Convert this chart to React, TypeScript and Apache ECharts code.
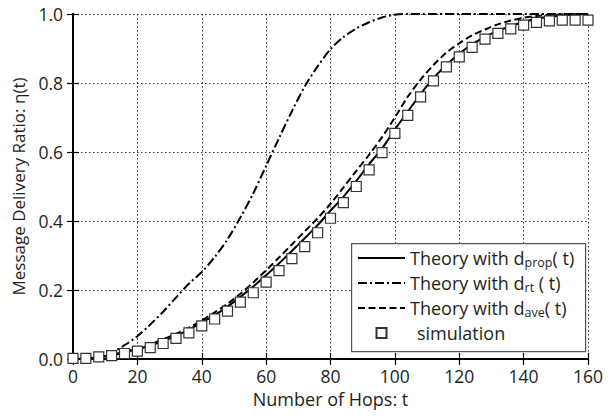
import React, { useEffect, useRef } from "react";
import * as echarts from "echarts";

const hops = [0, 4, 8, 12, 16, 20, 24, 28, 32, 36, 40, 44, 48, 52, 56, 60, 64, 68, 72, 76, 80, 84, 88, 92, 96, 100, 104, 108, 112, 116, 120, 124, 128, 132, 136, 140, 144, 148, 152, 156, 160];

const simulation = [0.002, 0.002, 0.006, 0.01, 0.016, 0.023, 0.033, 0.045, 0.06, 0.076, 0.096, 0.116, 0.139, 0.165, 0.192, 0.223, 0.256, 0.291, 0.326, 0.366, 0.408, 0.453, 0.5, 0.548, 0.598, 0.654, 0.706, 0.76, 0.806, 0.847, 0.876, 0.903, 0.927, 0.944, 0.957, 0.968, 0.976, 0.98, 0.982, 0.982, 0.982];

const dProp = [0, 0.001, 0.005, 0.011, 0.019, 0.028, 0.039, 0.052, 0.067, 0.085, 0.106, 0.127, 0.152, 0.18, 0.21, 0.243, 0.277, 0.313, 0.35, 0.388, 0.43, 0.47, 0.516, 0.565, 0.61, 0.665, 0.717, 0.768, 0.814, 0.853, 0.885, 0.912, 0.934, 0.951, 0.965, 0.977, 0.986, 0.992, 0.996, 0.999, 1.0];

const dRt = [0, 0.001, 0.005, 0.018, 0.04, 0.066, 0.1, 0.137, 0.178, 0.218, 0.252, 0.295, 0.347, 0.41, 0.48, 0.56, 0.64, 0.718, 0.79, 0.848, 0.898, 0.933, 0.958, 0.976, 0.99, 0.998, 1.0, 1.0, 1.0, 1.0, 1.0, 1.0, 1.0, 1.0, 1.0, 1.0, 1.0, 1.0, 1.0, 1.0, 1.0];

const dAve = [0, 0.001, 0.005, 0.012, 0.021, 0.031, 0.043, 0.057, 0.073, 0.091, 0.112, 0.135, 0.16, 0.189, 0.222, 0.257, 0.294, 0.332, 0.37, 0.408, 0.45, 0.497, 0.545, 0.592, 0.643, 0.7, 0.76, 0.81, 0.852, 0.888, 0.915, 0.938, 0.955, 0.97, 0.981, 0.989, 0.994, 0.997, 0.999, 1.0, 1.0];

const xTicks = [0, 20, 40, 60, 80, 100, 120, 140, 160];
const yTicks = [0, 0.2, 0.4, 0.6, 0.8, 1.0];

const seriesNames = [
  "Theory with d_prop(t)",
  "Theory with d_rt(t)",
  "Theory with d_ave(t)",
  "simulation",
];

const legendLabels: Record<string, string> = {
  "Theory with d_prop(t)": "{n|Theory with d}{s|prop}{n|( t)}",
  "Theory with d_rt(t)": "{n|Theory with d}{s|rt}{n| ( t)}",
  "Theory with d_ave(t)": "{n|Theory with d}{s|ave}{n|( t)}",
  simulation: "{m|simulation}",
};

const FONT = "'Open Sans', 'Noto Sans', sans-serif";
const TXT = "#231f20";

function pairs(ys: number[]) {
  return hops.map((h, i) => [h, ys[i]]);
}

export default function App() {
  const ref = useRef<HTMLDivElement>(null);
  useEffect(() => {
    if (!ref.current) return;
    const chart = echarts.init(ref.current, undefined, { renderer: "svg" });
    const axisLine = { show: true, lineStyle: { color: "#000", width: 2 } };
    const tick = { show: true, inside: true, length: 6, lineStyle: { color: "#000", width: 1.2 } };
    const split = { show: true, lineStyle: { color: "#333", width: 1, type: [1.5, 2.5] as any } };
    const hiddenDot = { opacity: 0 };
    chart.setOption({
      animation: false,
      backgroundColor: "#fff",
      textStyle: { fontFamily: FONT, color: TXT },
      grid: { left: 73, right: 21, top: 14, bottom: 57, containLabel: false },
      xAxis: [
        {
          type: "value",
          min: 0,
          max: 160,
          interval: 20,
          name: "Number of Hops: t",
          nameLocation: "middle",
          nameGap: 24,
          nameTextStyle: { fontSize: 18, color: TXT, fontFamily: FONT },
          axisLine,
          axisTick: tick,
          axisLabel: {
            fontSize: 17.5,
            color: TXT,
            fontFamily: FONT,
            margin: 8,
            formatter: (v: number) => (xTicks.includes(v) ? String(v) : ""),
          },
          splitLine: split,
        },
        {
          type: "value",
          position: "top",
          min: 0,
          max: 160,
          interval: 20,
          axisLine,
          axisTick: tick,
          axisLabel: { show: false },
          splitLine: { show: false },
        },
      ],
      yAxis: [
        {
          type: "value",
          min: 0,
          max: 1,
          interval: 0.2,
          name: "Message Delivery Ratio: η(t)",
          nameLocation: "middle",
          nameGap: 42,
          nameTextStyle: { fontSize: 17, color: TXT, fontFamily: FONT },
          axisLine,
          axisTick: tick,
          axisLabel: {
            fontSize: 17.5,
            color: TXT,
            fontFamily: FONT,
            margin: 10,
            formatter: (v: number) => {
              const t = yTicks.find((y) => Math.abs(y - v) < 1e-6);
              return t === undefined ? "" : t.toFixed(1);
            },
          },
          splitLine: split,
        },
        {
          type: "value",
          position: "right",
          min: 0,
          max: 1,
          interval: 0.2,
          axisLine,
          axisTick: tick,
          axisLabel: { show: false },
          splitLine: { show: false },
        },
      ],
      graphic: [
        {
          type: "rect",
          left: 351,
          top: 243,
          shape: { width: 234, height: 108 },
          style: { fill: "#fff", stroke: "#555", lineWidth: 1.2 },
          z: 8,
        },
      ],
      legend: {
        show: true,
        orient: "vertical",
        left: 351,
        top: 243,
        z: 10,
        padding: [6, 6, 5, 6],
        itemGap: 5,
        itemWidth: 47,
        itemHeight: 10,
        backgroundColor: "transparent",
        borderWidth: 0,
        data: [
          { name: seriesNames[0], itemStyle: hiddenDot },
          { name: seriesNames[1], itemStyle: hiddenDot },
          { name: seriesNames[2], itemStyle: hiddenDot },
          { name: seriesNames[3], icon: "path://M0 0H10V10H0Z" },
        ],
        formatter: (name: string) => legendLabels[name] || name,
        textStyle: {
          color: TXT,
          fontFamily: FONT,
          rich: {
            n: { fontSize: 18, lineHeight: 22, color: TXT, fontFamily: FONT },
            s: { fontSize: 12.5, lineHeight: 14, verticalAlign: "bottom", color: TXT, fontFamily: FONT },
            m: { fontSize: 18, lineHeight: 22, color: TXT, fontFamily: FONT, padding: [0, 0, 0, 7] },
          },
        },
      },
      series: [
        {
          name: seriesNames[0],
          type: "line",
          data: pairs(dProp),
          symbol: "none",
          smooth: 0.3,
          lineStyle: { color: "#000", width: 2, type: "solid" },
          itemStyle: { color: "#000" },
          z: 3,
        },
        {
          name: seriesNames[1],
          type: "line",
          data: pairs(dRt),
          symbol: "none",
          smooth: 0.3,
          lineStyle: { color: "#000", width: 2, type: [9, 3, 2, 3] },
          itemStyle: { color: "#000" },
          z: 3,
        },
        {
          name: seriesNames[2],
          type: "line",
          data: pairs(dAve),
          symbol: "none",
          smooth: 0.3,
          lineStyle: { color: "#000", width: 2, type: [7, 3.5] },
          itemStyle: { color: "#000" },
          z: 3,
        },
        {
          name: seriesNames[3],
          type: "scatter",
          data: pairs(simulation),
          symbol: "rect",
          symbolSize: 10,
          itemStyle: { color: "#fff", borderColor: "#333", borderWidth: 1.2, opacity: 1 },
          z: 5,
        },
      ],
    });
    return () => chart.dispose();
  }, []);
  return (
    <div
      ref={ref}
      style={{ position: "fixed", left: 0, top: 0, width: 609, height: 416, background: "#fff" }}
    />
  );
}
